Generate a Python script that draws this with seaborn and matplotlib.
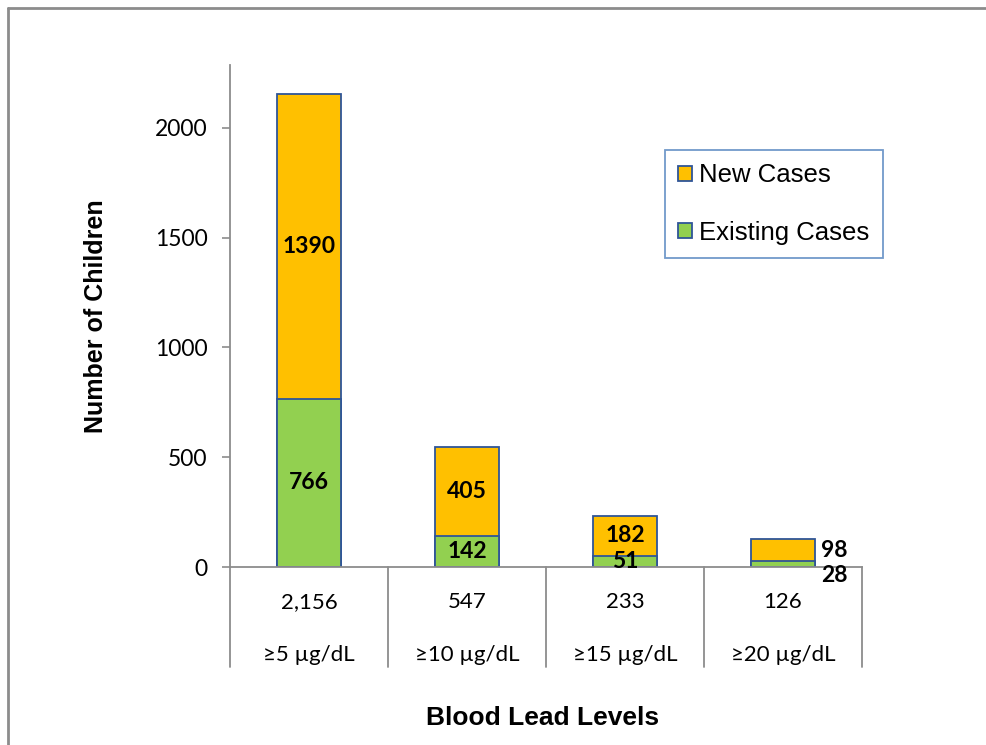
import matplotlib
matplotlib.use("Agg")
import matplotlib.pyplot as plt
import seaborn as sns
from matplotlib.patches import Patch
from matplotlib.lines import Line2D

# data
levels = ["≥5 µg/dL", "≥10 µg/dL", "≥15 µg/dL", "≥20 µg/dL"]
totals_txt = ["2,156", "547", "233", "126"]
existing = [766, 142, 51, 28]
new_cases = [1390, 405, 182, 98]
totals = [e + n for e, n in zip(existing, new_cases)]

orange = "#FFC000"
green = "#92D050"
edge = "#2F5597"
grey = "#8C8C8C"

sns.set_theme(style="white")
plt.rcParams['font.family'] = ['Liberation Sans', 'DejaVu Sans']
plt.rcParams['text.color'] = 'black'
plt.rcParams['axes.labelcolor'] = 'black'
cal = ['Lato', 'DejaVu Sans']

fig = plt.figure(figsize=(9.87, 7.45), dpi=100)
ax = fig.add_axes([230/987, 178/745, 632/987, 502/745])

# stacked bars: total (orange) behind, existing (green) in front
sns.barplot(x=levels, y=totals, color=orange, saturation=1, width=0.4,
            edgecolor=edge, linewidth=1.3, ax=ax)
sns.barplot(x=levels, y=existing, color=green, saturation=1, width=0.4,
            edgecolor=edge, linewidth=1.3, ax=ax)

ax.set_xlim(-0.5, 3.5)
ax.set_ylim(0, 2287)
ax.set_yticks([0, 500, 1000, 1500, 2000])
ax.tick_params(axis='y', length=6, width=1.2, color=grey, labelcolor='black',
               direction='out', left=True, pad=10, labelsize=16.5)
for lab in ax.get_yticklabels():
    lab.set_family(cal)
ax.set_xticks([])
ax.set_xlabel("")
for s in ['top', 'right']:
    ax.spines[s].set_visible(False)
for s in ['left', 'bottom']:
    ax.spines[s].set_color(grey)
    ax.spines[s].set_linewidth(1.3)

# data labels
lbl = dict(fontsize=16.5, fontweight='bold', family=cal, color='black')
for i in range(3):
    ax.text(i, existing[i] / 2, str(existing[i]), ha='center', va='center', **lbl)
    ax.text(i, existing[i] + new_cases[i] / 2, str(new_cases[i]), ha='center',
            va='center', **lbl)
ax.annotate(str(new_cases[3]), xy=(3, existing[3] + new_cases[3] / 2),
            xytext=(37, 0), textcoords='offset points', ha='center', va='center',
            **lbl)
ax.annotate(str(existing[3]), xy=(3, existing[3] / 2),
            xytext=(37, -8), textcoords='offset points', ha='center', va='center',
            **lbl)

# category table below axis
trans = ax.get_xaxis_transform()
for i in range(len(levels)):
    ax.text(i, -0.07, totals_txt[i], transform=trans, ha='center', va='center',
            fontsize=16, family=cal)
    ax.text(i, -0.175, levels[i], transform=trans, ha='center', va='center',
            fontsize=16, family=cal)
for xs in [-0.5, 0.5, 1.5, 2.5, 3.5]:
    ax.plot([xs, xs], [0, -0.2], transform=trans, color=grey, lw=1.3,
            clip_on=False)

ax.set_ylabel("Number of Children", fontsize=18, fontweight='bold', labelpad=34)
fig.text(543/987, 1 - 718/745, "Blood Lead Levels", ha='center', va='center',
         fontsize=19, fontweight='bold')

handles = [Patch(facecolor=orange, edgecolor=edge, linewidth=1.3),
           Patch(facecolor=green, edgecolor=edge, linewidth=1.3)]
leg = fig.legend(handles, ["New Cases", "Existing Cases"], loc='upper left',
                 bbox_to_anchor=(665/987, 1 - 150/745), fontsize=18.5,
                 frameon=True, fancybox=False, handlelength=0.55,
                 handleheight=0.55, handletextpad=0.25, labelspacing=1.3,
                 borderpad=0.52, borderaxespad=0)
leg.get_frame().set_edgecolor("#4F81BD")
leg.get_frame().set_linewidth(1.3)

# outer border
fig.add_artist(Line2D([8.5/987, 8.5/987], [0, 1 - 7.5/745], color=grey, lw=2))
fig.add_artist(Line2D([8.5/987, 1], [1 - 7.5/745, 1 - 7.5/745], color=grey, lw=2))

fig.savefig("out.png", dpi=100)
